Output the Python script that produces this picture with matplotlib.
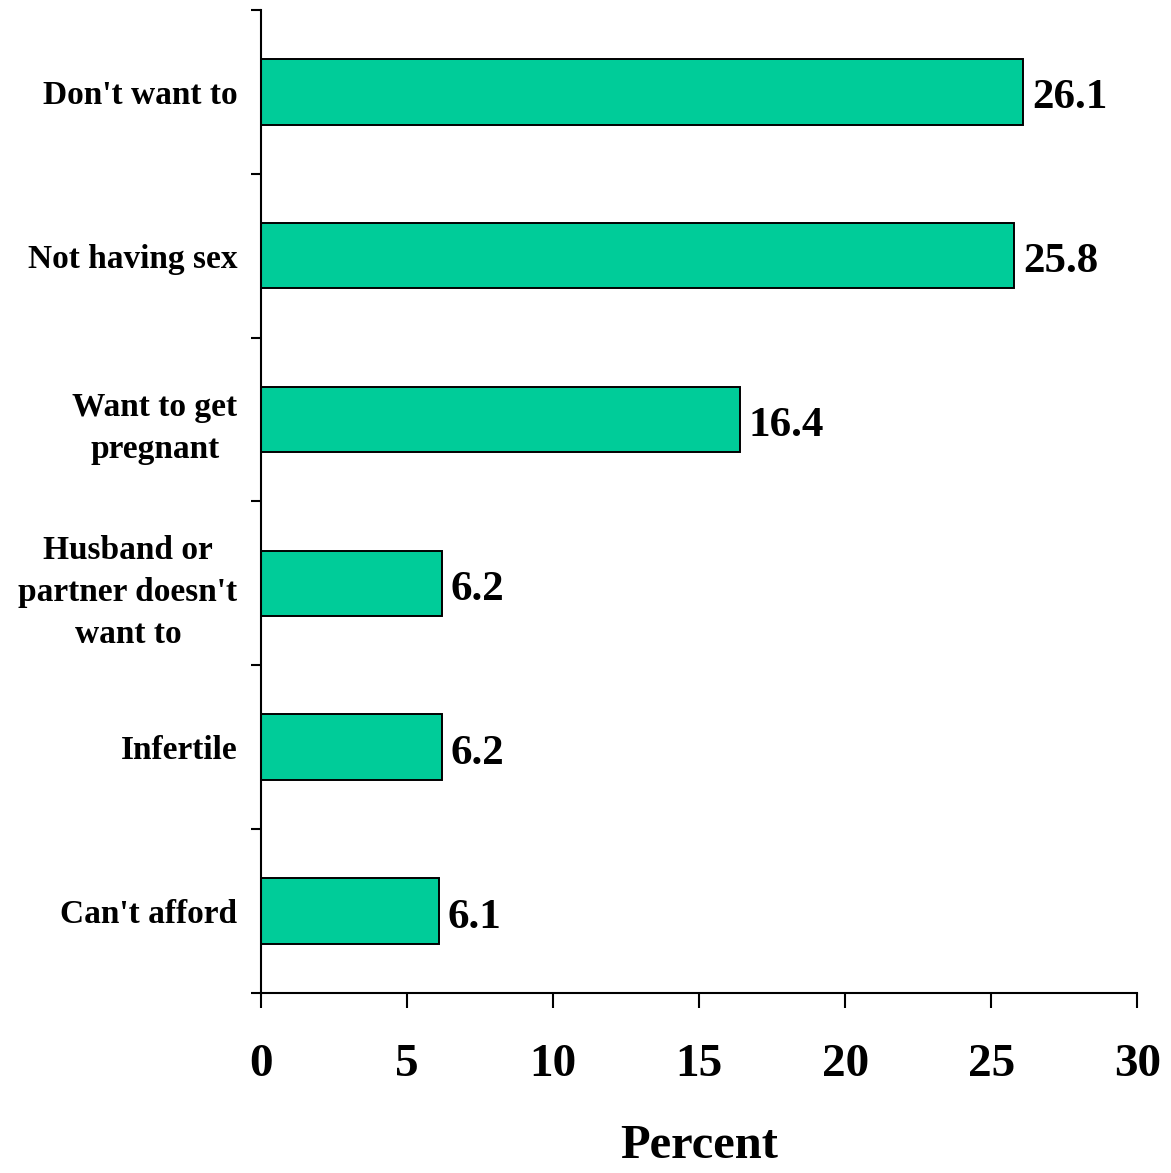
import matplotlib.pyplot as plt
import numpy as np

categories = ["Don't want to", "Not having sex", "Want to get\npregnant",
              "Husband or\npartner doesn't\nwant to", "Infertile", "Can't afford"]
values = [26.1, 25.8, 16.4, 6.2, 6.2, 6.1]
value_labels = ["26.1", "25.8", "16.4", "6.2", "6.2", "6.1"]
xticks = [0, 5, 10, 15, 20, 25, 30]

plt.rcParams['font.family'] = ['Liberation Serif', 'DejaVu Serif']
plt.rcParams['font.weight'] = 'bold'

fig = plt.figure(figsize=(11.71, 11.73), dpi=100)
ax = fig.add_axes([0.2229, 0.1535, 0.7482, 0.838])

y = np.arange(len(categories))
ax.barh(y, values, height=0.4, color="#00CC99", edgecolor="black", linewidth=1.4)

for yi, v, lab in zip(y, values, value_labels):
    ax.text(v + 0.3, yi + 0.04, lab, va="center", ha="left", fontsize=31, fontweight="bold")

ax.set_ylim(len(categories) - 0.5, -0.5)
ax.set_xlim(0, 30)

ax.set_yticks(y)
ax.set_yticklabels(categories, fontsize=24, fontweight="bold",
                   multialignment="center", linespacing=1.45)
ax.tick_params(axis="y", which="major", length=0, pad=17)
ax.set_yticks(np.arange(-0.5, len(categories), 1), minor=True)
ax.tick_params(axis="y", which="minor", length=7, width=1.5, direction="out")

ax.set_xticks(xticks)
ax.set_xticklabels([str(t) for t in xticks], fontsize=34, fontweight="bold")
ax.tick_params(axis="x", length=11, width=1.5, direction="out", pad=26)

ax.set_xlabel("Percent", fontsize=35, fontweight="bold", labelpad=27)

ax.spines["top"].set_visible(False)
ax.spines["right"].set_visible(False)
ax.spines["left"].set_linewidth(1.5)
ax.spines["bottom"].set_linewidth(1.5)

fig.savefig("out.png", dpi=100)
